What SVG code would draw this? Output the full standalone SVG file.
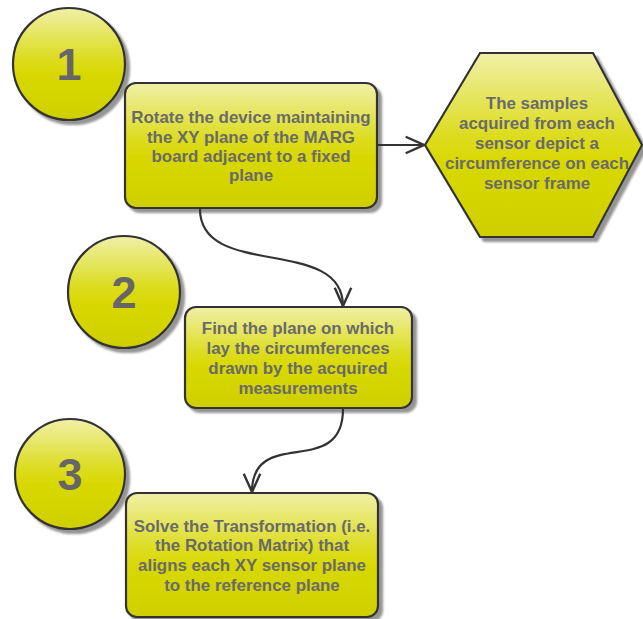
<svg xmlns="http://www.w3.org/2000/svg" width="643" height="619" viewBox="0 0 643 619">
<defs>
<linearGradient id="g" x1="0" y1="0" x2="0" y2="1">
<stop offset="0" stop-color="#f0f0a8"/>
<stop offset="0.45" stop-color="#dcdc20"/>
<stop offset="0.6" stop-color="#d8d800"/>
<stop offset="1" stop-color="#cfcf00"/>
</linearGradient>
<filter id="sh" x="-10%" y="-10%" width="130%" height="130%">
<feDropShadow dx="4" dy="4" stdDeviation="1.2" flood-color="#7a7a7a" flood-opacity="0.8"/>
</filter>
<marker id="arr" viewBox="0 0 24 24" refX="22" refY="12" markerWidth="22" markerHeight="22" markerUnits="userSpaceOnUse" orient="auto">
<path d="M2,3 L22,12 L2,21" fill="none" stroke="#333" stroke-width="2.6"/>
</marker>
</defs>
<style>
.shape{fill:url(#g);stroke:#333;stroke-width:2.2;filter:url(#sh)}
.tab{stroke:#3a3a3a;stroke-width:2.5;fill:none;filter:url(#sh)}
.num{font-family:"Liberation Sans",Arial,sans-serif;font-weight:bold;font-size:45px;fill:#666;text-anchor:middle}
.t{font-family:"Liberation Sans",Arial,sans-serif;font-weight:bold;font-size:16.9px;fill:#6a6a6a;text-anchor:middle}
.c{fill:none;stroke:#333;stroke-width:2.2}
</style>
<g id="step1">
<line class="tab" x1="72" y1="122" x2="126" y2="122"/>
<circle class="shape" cx="69" cy="64" r="56"/>
<text class="num" x="69" y="80">1</text>
</g>
<g id="box1">
<rect class="shape" x="125" y="83" width="252" height="125" rx="11"/>
<text class="t" x="251" y="123">Rotate the device maintaining</text>
<text class="t" x="251" y="143">the XY plane of the MARG</text>
<text class="t" x="251" y="162">board adjacent to a fixed</text>
<text class="t" x="251" y="181">plane</text>
</g>
<g id="hex">
<polygon class="shape" points="425,145 480,53 593,53 642,145 593,237 480,237"/>
<text class="t" x="537" y="109">The samples</text>
<text class="t" x="537" y="129">acquired from each</text>
<text class="t" x="537" y="149">sensor depict a</text>
<text class="t" x="537" y="169">circumference on each</text>
<text class="t" x="537" y="189">sensor frame</text>
</g>
<g id="step2">
<line class="tab" x1="128" y1="347" x2="186" y2="347"/>
<circle class="shape" cx="124" cy="292" r="56"/>
<text class="num" x="124" y="308">2</text>
</g>
<g id="box2">
<rect class="shape" x="185" y="307" width="227" height="101" rx="11"/>
<text class="t" x="298" y="334">Find the plane on which</text>
<text class="t" x="298" y="354">lay the circumferences</text>
<text class="t" x="298" y="374">drawn by the acquired</text>
<text class="t" x="298" y="394">measurements</text>
</g>
<g id="step3">
<line class="tab" x1="75" y1="532" x2="127" y2="532"/>
<circle class="shape" cx="70" cy="474" r="55"/>
<text class="num" x="70" y="490">3</text>
</g>
<g id="box3">
<rect class="shape" x="126" y="493" width="252" height="124" rx="11"/>
<text class="t" x="252" y="532">Solve the Transformation (i.e.</text>
<text class="t" x="252" y="551">the Rotation Matrix) that</text>
<text class="t" x="252" y="571">aligns each XY sensor plane</text>
<text class="t" x="252" y="591">to the reference plane</text>
</g>
<g id="connectors">
<path class="c" d="M377,145 L424,145" marker-end="url(#arr)"/>
<path class="c" d="M200,209 C200,280 343,235 343,306" marker-end="url(#arr)"/>
<path class="c" d="M343,409 C343,480 252,425 252,492" marker-end="url(#arr)"/>
</g>
</svg>
